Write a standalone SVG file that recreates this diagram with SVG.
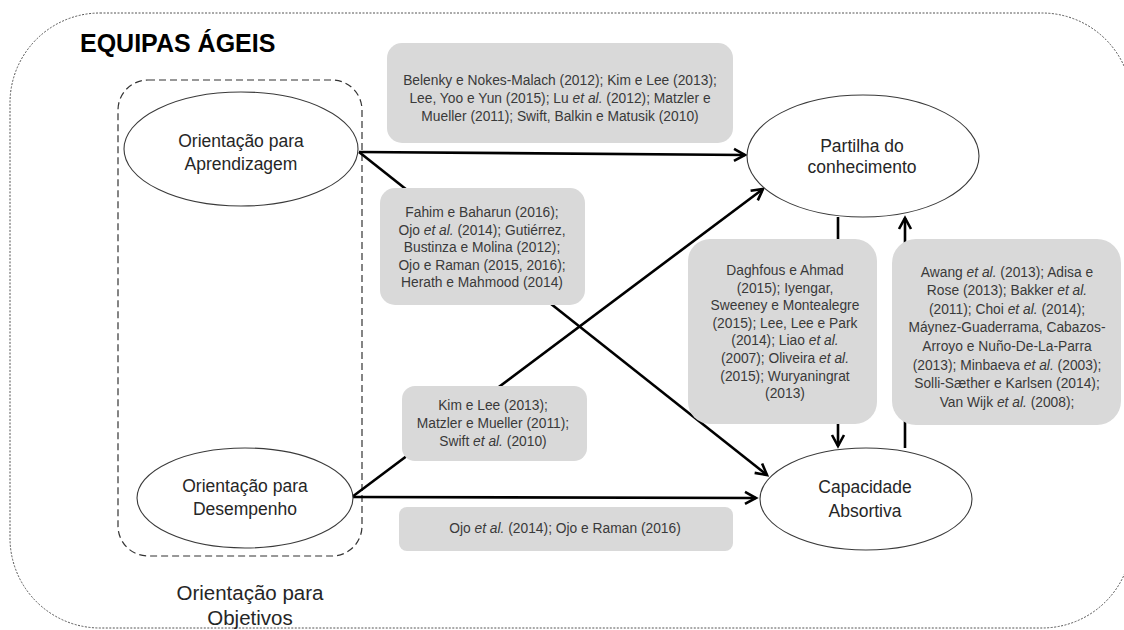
<svg xmlns="http://www.w3.org/2000/svg" width="1124" height="630" viewBox="0 0 1124 630">
<defs>
<marker id="arr" markerUnits="userSpaceOnUse" markerWidth="16" markerHeight="16" refX="13" refY="8" orient="auto">
<path d="M2,2 L13,8 L2,14" fill="none" stroke="#000" stroke-width="2.6"/>
</marker>
<style>
.conn{stroke:#000;stroke-width:2.6;fill:none;marker-end:url(#arr)}
.ell{fill:#fff;stroke:#3a3a3a;stroke-width:1.1}
.ntxt{font-family:"Liberation Sans",Arial,sans-serif;font-size:17.5px;fill:#262626;text-anchor:middle}
.box{fill:#d9d9d9;stroke:none}
.btxt{font-family:"Liberation Sans",Arial,sans-serif;font-size:13.8px;fill:#3a3a3a;text-anchor:middle}
.it{font-style:italic}
</style>
</defs>
<rect width="1124" height="630" fill="#fff"/>
<g id="frame">
<rect x="10" y="13" width="1122" height="615" rx="90" ry="90" fill="none" stroke="#555" stroke-width="1" stroke-dasharray="2 1.5"/>
<text x="80" y="52" font-family="Liberation Sans,Arial,sans-serif" font-size="25" font-weight="bold" fill="#000">EQUIPAS ÁGEIS</text>
</g>
<g id="goal-orientation">
<rect x="118" y="80" width="244" height="476" rx="30" ry="30" fill="none" stroke="#333" stroke-width="1.2" stroke-dasharray="7 4"/>
<text class="ntxt" x="250" y="600" style="font-size:20.5px">Orientação para</text>
<text class="ntxt" x="250" y="625" style="font-size:20.5px">Objetivos</text>
</g>
<g id="connectors">
<line class="conn" x1="359" y1="152" x2="745" y2="155"/>
<line class="conn" x1="359" y1="152" x2="767" y2="475"/>
<line class="conn" x1="352" y1="497" x2="763" y2="189"/>
<line class="conn" x1="352" y1="497" x2="756" y2="498"/>
<line class="conn" x1="838" y1="217" x2="838" y2="446"/>
<line class="conn" x1="905" y1="448" x2="905" y2="218"/>
</g>
<g id="label-ap-pc">
<rect class="box" x="387" y="43" width="346" height="100" rx="15"/>
<text class="btxt" x="560" y="85">Belenky e Nokes-Malach (2012); Kim e Lee (2013);</text>
<text class="btxt" x="560" y="103">Lee, Yoo e Yun (2015); Lu <tspan class="it">et al.</tspan> (2012); Matzler e</text>
<text class="btxt" x="560" y="121">Mueller (2011); Swift, Balkin e Matusik (2010)</text>
</g>
<g id="label-ap-ca">
<rect class="box" x="380" y="188" width="205" height="117" rx="15"/>
<text class="btxt" x="482" y="217">Fahim e Baharun (2016);</text>
<text class="btxt" x="482" y="234.5">Ojo <tspan class="it">et al.</tspan> (2014); Gutiérrez,</text>
<text class="btxt" x="482" y="252">Bustinza e Molina (2012);</text>
<text class="btxt" x="482" y="269.5">Ojo e Raman (2015, 2016);</text>
<text class="btxt" x="482" y="287">Herath e Mahmood (2014)</text>
</g>
<g id="label-de-pc">
<rect class="box" x="402" y="386" width="185" height="75" rx="13"/>
<text class="btxt" x="493" y="410">Kim e Lee (2013);</text>
<text class="btxt" x="493" y="428">Matzler e Mueller (2011);</text>
<text class="btxt" x="493" y="446">Swift <tspan class="it">et al.</tspan> (2010)</text>
</g>
<g id="label-de-ca">
<rect class="box" x="399" y="507" width="334" height="44" rx="8"/>
<text class="btxt" x="565" y="533">Ojo <tspan class="it">et al.</tspan> (2014); Ojo e Raman (2016)</text>
</g>
<g id="label-pc-ca">
<rect class="box" x="688" y="239" width="189" height="185" rx="22"/>
<text class="btxt" x="785" y="275">Daghfous e Ahmad</text>
<text class="btxt" x="785" y="292.6">(2015); Iyengar,</text>
<text class="btxt" x="785" y="310.2">Sweeney e Montealegre</text>
<text class="btxt" x="785" y="327.8">(2015); Lee, Lee e Park</text>
<text class="btxt" x="785" y="345.4">(2014); Liao <tspan class="it">et al.</tspan></text>
<text class="btxt" x="785" y="363">(2007); Oliveira <tspan class="it">et al.</tspan></text>
<text class="btxt" x="785" y="380.6">(2015); Wuryaningrat</text>
<text class="btxt" x="785" y="398.2">(2013)</text>
</g>
<g id="label-ca-pc">
<rect class="box" x="892" y="239" width="229" height="186" rx="24"/>
<text class="btxt" x="1007" y="276.5">Awang <tspan class="it">et al.</tspan> (2013); Adisa e</text>
<text class="btxt" x="1007" y="295.1">Rose (2013); Bakker <tspan class="it">et al.</tspan></text>
<text class="btxt" x="1007" y="313.7">(2011); Choi <tspan class="it">et al.</tspan> (2014);</text>
<text class="btxt" x="1007" y="332.3">Máynez-Guaderrama, Cabazos-</text>
<text class="btxt" x="1007" y="350.9">Arroyo e Nuño-De-La-Parra</text>
<text class="btxt" x="1007" y="369.5">(2013); Minbaeva <tspan class="it">et al.</tspan> (2003);</text>
<text class="btxt" x="1007" y="388.1">Solli-Sæther e Karlsen (2014);</text>
<text class="btxt" x="1007" y="406.7">Van Wijk <tspan class="it">et al.</tspan> (2008);</text>
</g>
<g id="node-aprendizagem">
<ellipse class="ell" cx="241" cy="149" rx="117" ry="57"/>
<text class="ntxt" x="241" y="147">Orientação para</text>
<text class="ntxt" x="241" y="170">Aprendizagem</text>
</g>
<g id="node-desempenho">
<ellipse class="ell" cx="245" cy="498" rx="108" ry="50"/>
<text class="ntxt" x="245" y="492">Orientação para</text>
<text class="ntxt" x="245" y="515">Desempenho</text>
</g>
<g id="node-partilha">
<ellipse class="ell" cx="863" cy="156" rx="116" ry="61"/>
<text class="ntxt" x="862" y="152">Partilha do</text>
<text class="ntxt" x="862" y="173">conhecimento</text>
</g>
<g id="node-capacidade">
<ellipse class="ell" cx="866" cy="499" rx="106" ry="51"/>
<text class="ntxt" x="865" y="493">Capacidade</text>
<text class="ntxt" x="865" y="517">Absortiva</text>
</g>
</svg>
